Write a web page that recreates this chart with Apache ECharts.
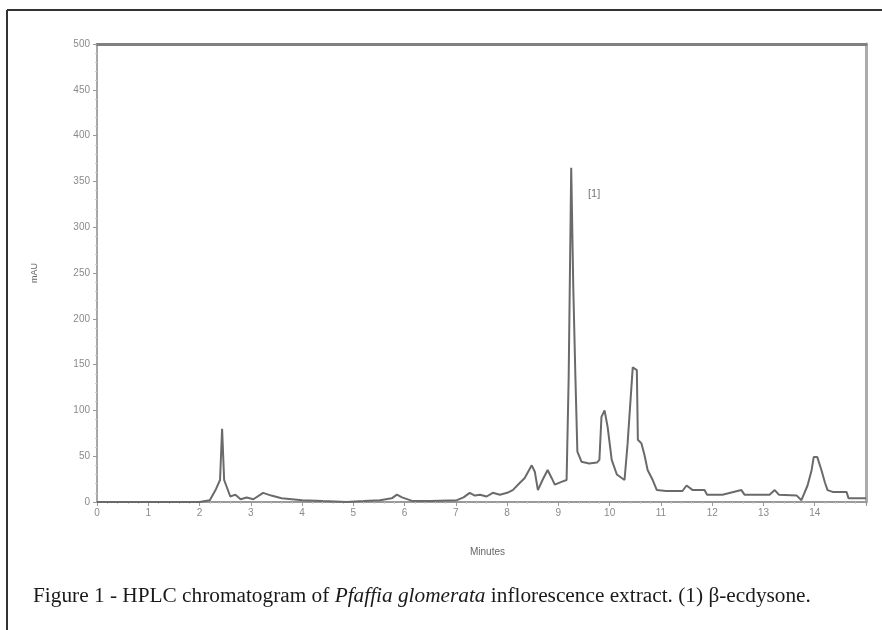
<!DOCTYPE html>
<html>
<head>
<meta charset="utf-8">
<script src="https://cdn.jsdelivr.net/npm/echarts@6/dist/echarts.min.js"></script>
<style>
  html, body { margin: 0; padding: 0; background: #fff; }
  #chart { width: 882px; height: 630px; }
</style>
</head>
<body>
<div id="chart"></div>
<script>
// retention time (min) and absorbance (mAU)
var times = [0, 0.5, 1.0, 1.5, 2.0, 2.2, 2.32, 2.4, 2.44, 2.48, 2.6, 2.7, 2.8, 2.92, 3.05, 3.24, 3.4, 3.6, 3.8, 4.0,
    4.4, 4.87, 5.2, 5.52, 5.75, 5.85, 5.95, 6.16, 6.5, 7.02, 7.15, 7.27, 7.37, 7.47, 7.6, 7.72, 7.86, 8.0, 8.11, 8.25,
    8.34, 8.48, 8.54, 8.6, 8.69, 8.79, 8.87, 8.93, 9.06, 9.16, 9.2, 9.25, 9.29, 9.33, 9.37, 9.45, 9.6, 9.75, 9.8, 9.84,
    9.9, 9.96, 10.04, 10.14, 10.29, 10.35, 10.45, 10.53, 10.55, 10.62, 10.68, 10.74, 10.84, 10.92, 11.1, 11.42, 11.5, 11.62, 11.85, 11.9,
    12.2, 12.57, 12.63, 13.12, 13.22, 13.3, 13.65, 13.74, 13.86, 13.94, 13.98, 14.05, 14.13, 14.2, 14.25, 14.35, 14.62, 14.66, 15.0];
var mAU = [0, 0, 0, 0, 0, 2, 14, 24, 80, 24, 6, 8, 3, 5, 3, 10, 7, 4, 3, 2,
    1, 0, 1, 2, 4, 8, 5, 1, 1, 2, 5, 10, 7, 8, 6, 10, 8, 10, 13, 21,
    26, 40, 33, 13, 24, 35, 26, 19, 22, 24, 135, 365, 235, 140, 55, 44, 42, 43, 46, 93,
    100, 82, 46, 30, 24, 64, 147, 144, 68, 64, 51, 35, 24, 13, 12, 12, 18, 13, 13, 8,
    8, 13, 8, 8, 13, 8, 7, 2, 18, 35, 49, 49, 35, 21, 13, 11, 11, 4, 4];

var xLabel = 'Minutes';
var yLabel = 'mAU';
var peakTag = '[1]';

var trace = [];
for (var i = 0; i < times.length; i++) {
    trace.push([times[i], mAU[i]]);
}

var chart = echarts.init(document.getElementById('chart'), null, {renderer: 'canvas'});
var tickFont = {color: '#8a8a8a', fontSize: 10, fontFamily: 'Liberation Sans'};

var option = {
    backgroundColor: '#fff',
    animation: false,
    grid: {left: 97, right: 16, top: 44, bottom: 128},
    xAxis: [
        {
            type: 'value',
            min: 0,
            max: 15,
            interval: 1,
            name: xLabel,
            nameLocation: 'middle',
            nameGap: 45,
            nameTextStyle: {color: '#666', fontSize: 10, fontFamily: 'Liberation Sans', padding: [0, 0, 0, 12]},
            axisLine: {onZero: false, lineStyle: {color: '#9a9a9a', width: 2}},
            axisTick: {show: true, length: 4, lineStyle: {color: '#999'}},
            minorTick: {show: true, splitNumber: 5, length: 2, lineStyle: {color: '#ccc'}},
            axisLabel: {
                margin: 6,
                formatter: function (v) { return v >= 15 ? '' : String(v); },
                textStyle: tickFont
            },
            splitLine: {show: false}
        },
        {
            type: 'value',
            position: 'top',
            min: 0,
            max: 15,
            axisLine: {show: true, onZero: false, lineStyle: {color: '#808080', width: 3}},
            axisTick: {show: false},
            axisLabel: {show: false},
            splitLine: {show: false}
        }
    ],
    yAxis: [
        {
            type: 'value',
            min: 0,
            max: 500,
            interval: 50,
            name: yLabel,
            nameLocation: 'middle',
            nameGap: 58,
            nameRotate: 90,
            nameTextStyle: {color: '#666', fontSize: 9, fontFamily: 'Liberation Sans'},
            axisLine: {show: true, onZero: false, lineStyle: {color: '#a8a8a8', width: 2}},
            axisTick: {show: true, length: 4, lineStyle: {color: '#999'}},
            minorTick: {show: true, splitNumber: 5, length: 2, lineStyle: {color: '#ccc'}},
            axisLabel: {margin: 7, textStyle: tickFont},
            splitLine: {show: false}
        },
        {
            type: 'value',
            position: 'right',
            min: 0,
            max: 500,
            axisLine: {show: true, onZero: false, lineStyle: {color: '#ababab', width: 3}},
            axisTick: {show: false},
            axisLabel: {show: false},
            splitLine: {show: false}
        }
    ],
    series: [
        {
            type: 'line',
            data: trace,
            showSymbol: false,
            symbol: 'none',
            lineStyle: {color: '#6a6a6a', width: 2},
            z: 5
        }
    ],
    graphic: [
        // outer figure frame (top and left edge only are in view)
        {type: 'line', shape: {x1: 7, y1: 10, x2: 882, y2: 10}, style: {stroke: '#333', lineWidth: 2}},
        {type: 'line', shape: {x1: 7, y1: 10, x2: 7, y2: 630}, style: {stroke: '#333', lineWidth: 2}},
        {
            type: 'text', left: 588, top: 188,
            style: {text: peakTag, fill: '#777', font: '11px "Liberation Sans"'}
        },
        {
            type: 'text', left: 33, top: 586,
            style: {
                rich: {
                    n: {fontFamily: 'Liberation Serif', fontSize: 21.3, fill: '#1a1a1a'},
                    i: {fontFamily: 'Liberation Serif', fontSize: 21.3, fontStyle: 'italic', fill: '#1a1a1a'}
                },
                text: '{n|Figure 1 - HPLC chromatogram of }{i|Pfaffia glomerata}{n| inflorescence extract. (1) β-ecdysone.}'
            }
        }
    ]
};

chart.setOption(option);
window.onresize = chart.resize;
</script>
</body>
</html>
